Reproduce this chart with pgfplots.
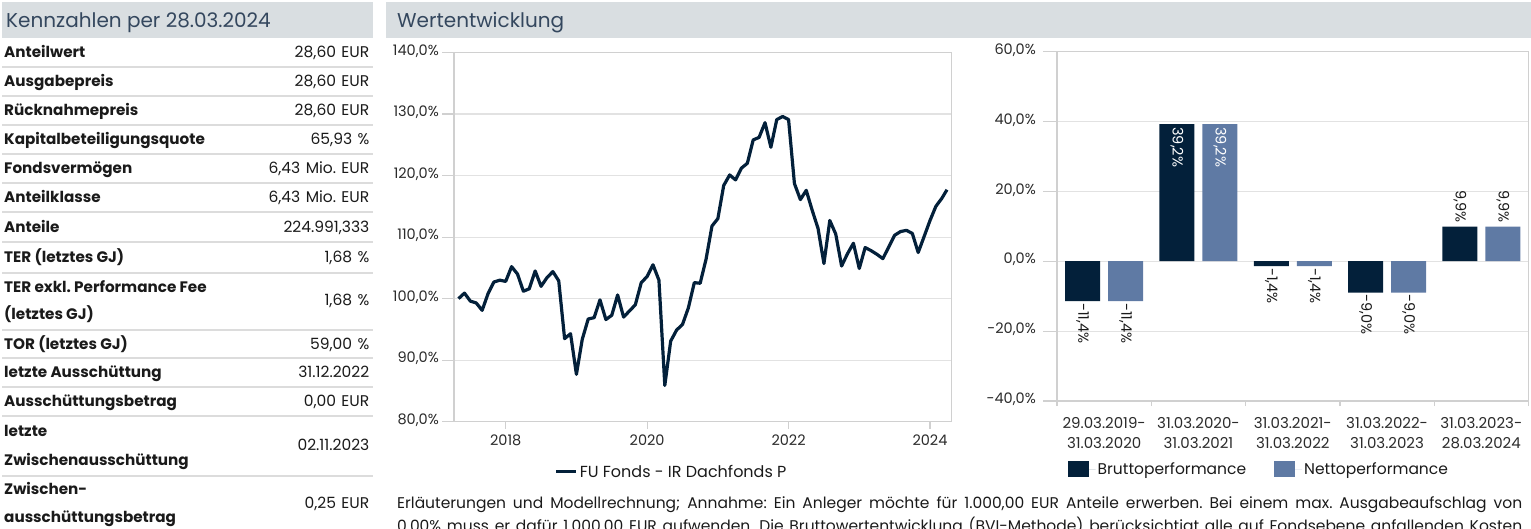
\documentclass[border=0pt]{standalone}
\usepackage{pgfplots}
\pgfplotsset{compat=1.18}
\usepackage{fontspec}
\setmainfont{Poppins}
\newfontfamily\valfont[WordSpace=1.3]{Poppins}
\definecolor{navy}{HTML}{03203A}
\definecolor{steel}{HTML}{5F7AA4}
\definecolor{hdr}{HTML}{D9DEE1}
\definecolor{hdrtxt}{HTML}{34475E}
\definecolor{sepc}{HTML}{DCDCDC}
\definecolor{gridc}{HTML}{E2E2E2}
\definecolor{framec}{HTML}{D0D0D0}
\definecolor{txt}{HTML}{1A1A1A}
\definecolor{ticktxt}{HTML}{2B2B2B}
\tikzset{lblstyle/.style={font=\fontsize{14.5}{16}\selectfont, inner sep=0pt}}
\begin{document}
\frenchspacing
\begin{tikzpicture}
\useasboundingbox (0pt,0pt) rectangle (1531pt,-528pt);
\clip (0pt,0pt) rectangle (1531pt,-528pt);
\begin{scope}[x=1pt,y=-1pt]
\fill[hdr] (2,2) rectangle (373,38);
\fill[hdr] (386,2) rectangle (1531,38);
\node[anchor=base west,inner sep=0,text=hdrtxt,font=\fontsize{20}{22}\selectfont] at (6,27.5) {Kennzahlen per 28.03.2024};
\node[anchor=base west,inner sep=0,text=hdrtxt,font=\fontsize{20}{22}\selectfont] at (397,27.5) {Wertentwicklung};
\foreach \yy in {66.7,96,125,154,183,212,242,273,330,358,387,416,476}
  \draw[sepc,line width=2.2pt] (2,\yy) -- (373,\yy);
\tikzset{lab/.style={anchor=base west,inner sep=0,text=txt,font=\fontsize{15.2}{17}\selectfont\bfseries},
  val/.style={anchor=base east,inner sep=0,text=txt,font=\valfont\fontsize{15.5}{17}\selectfont}}
\node[lab] at (4,57) {Anteilwert};           \node[val] at (369.5,57) {28,60 EUR};
\node[lab] at (4,86) {Ausgabepreis};         \node[val] at (369.5,86) {28,60 EUR};
\node[lab] at (4,115.5) {Rücknahmepreis};    \node[val] at (369.5,115.5) {28,60 EUR};
\node[lab] at (4,144.5) {Kapitalbeteiligungsquote}; \node[val] at (369.5,144.5) {65,93 \%};
\node[lab] at (4,173.5) {Fondsvermögen};     \node[val] at (369.5,173.5) {6,43 Mio. EUR};
\node[lab] at (4,202.5) {Anteilklasse};      \node[val] at (369.5,202.5) {6,43 Mio. EUR};
\node[lab] at (4,232) {Anteile};             \node[val] at (369.5,232) {224.991,333};
\node[lab] at (4,262) {TER (letztes GJ)};    \node[val] at (369.5,262) {1,68 \%};
\node[lab] at (4,292) {TER exkl. Performance Fee}; \node[lab] at (4,319) {(letztes GJ)}; \node[val] at (369.5,305.5) {1,68 \%};
\node[lab] at (4,349) {TOR (letztes GJ)};    \node[val] at (369.5,349) {59,00 \%};
\node[lab] at (4,377.5) {letzte Ausschüttung}; \node[val] at (369.5,377.5) {31.12.2022};
\node[lab] at (4,406.5) {Ausschüttungsbetrag}; \node[val] at (369.5,406.5) {0,00 EUR};
\node[lab] at (4,436) {letzte}; \node[lab] at (4,465) {Zwischenausschüttung}; \node[val] at (369.5,450.5) {02.11.2023};
\node[lab] at (4,494) {Zwischen-}; \node[lab] at (4,522) {ausschüttungsbetrag}; \node[val] at (369.5,508) {0,25 EUR};
\node[anchor=base west,inner sep=0,text=txt,font=\fontsize{15.5}{18}\selectfont] at (397,508) {\makebox[1125pt][s]{Erläuterungen und Modellrechnung; Annahme: Ein Anleger möchte für 1.000,00 EUR Anteile erwerben. Bei einem max. Ausgabeaufschlag von}};
\node[anchor=base west,inner sep=0,text=txt,font=\fontsize{15.5}{18}\selectfont] at (397,531) {\makebox[1125pt][s]{0,00\% muss er dafür 1.000,00 EUR aufwenden. Die Bruttowertentwicklung (BVI-Methode) berücksichtigt alle auf Fondsebene anfallenden Kosten}};
\end{scope}

% ---------------- line chart ----------------
\begin{axis}[
  at={(454pt,-421.7pt)}, anchor=south west,
  scale only axis, width=497.7pt, height=369.2pt,
  xmin=2017.269, xmax=2024.307, ymin=80, ymax=140,
  axis line style={framec,line width=1.5pt},
  tick pos=left, tick align=outside, major tick length=7pt,
  tick style={framec,line width=1.2pt},
  ymajorgrids, grid style={gridc,line width=1.2pt},
  xtick={2018,2020,2022,2024}, xticklabels={2018,2020,2022,2024},
  ytick={80,90,...,140},
  yticklabels={{80,0\%},{90,0\%},{100,0\%},{110,0\%},{120,0\%},{130,0\%},{140,0\%}},
  extra y ticks={80,90,...,140}, extra y tick labels={},
  extra y tick style={major tick length=12pt, grid=none},
  tick label style={font=\fontsize{14.5}{17}\selectfont, text=ticktxt, inner sep=0pt},
  yticklabel style={anchor=mid east},
  yticklabel shift=8pt,
  xticklabel style={anchor=mid, yshift=-14pt, font=\fontsize{14.5}{17}\selectfont},
  legend style={at={(0.437,-0.1354)}, anchor=center, draw=none, fill=none,
    font=\fontsize{16}{19}\selectfont, text=txt},
  legend image code/.code={\draw[#1] (0pt,0pt) -- (20pt,0pt);},
]
\addplot[navy, line width=3.2pt, line join=round] coordinates {
(2017.333,100.0) (2017.417,100.9) (2017.500,99.6) (2017.583,99.3) (2017.667,98.1)
(2017.750,100.8) (2017.833,102.7) (2017.917,103.0) (2018.000,102.8) (2018.083,105.2)
(2018.167,104.0) (2018.250,101.2) (2018.333,101.6) (2018.417,104.5) (2018.500,102.0)
(2018.583,103.4) (2018.667,104.4) (2018.750,102.9) (2018.833,93.5) (2018.917,94.3)
(2019.000,87.7) (2019.083,93.4) (2019.167,96.7) (2019.250,96.9) (2019.333,99.8)
(2019.417,96.6) (2019.500,97.3) (2019.583,100.6) (2019.667,97.0) (2019.750,98.0)
(2019.833,99.0) (2019.917,102.6) (2020.000,103.6) (2020.083,105.5) (2020.167,103.0)
(2020.250,85.9) (2020.333,93.1) (2020.417,94.9) (2020.500,95.8) (2020.583,98.5)
(2020.667,102.6) (2020.750,102.5) (2020.833,106.4) (2020.917,111.8) (2021.000,113.0)
(2021.083,118.4) (2021.167,120.1) (2021.250,119.3) (2021.333,121.2) (2021.417,122.0)
(2021.500,125.8) (2021.583,126.2) (2021.667,128.6) (2021.750,124.6) (2021.833,129.1)
(2021.917,129.6) (2022.000,129.1) (2022.083,118.7) (2022.167,116.1) (2022.250,117.6)
(2022.333,114.4) (2022.417,111.4) (2022.500,105.7) (2022.583,112.7) (2022.667,110.5)
(2022.750,105.3) (2022.833,107.3) (2022.917,109.0) (2023.000,104.9) (2023.083,108.3)
(2023.167,107.8) (2023.250,107.2) (2023.333,106.5) (2023.417,108.4) (2023.500,110.3)
(2023.583,110.9) (2023.667,111.1) (2023.750,110.6) (2023.833,107.5) (2023.917,110.1)
(2024.000,112.7) (2024.083,115.0) (2024.167,116.3) (2024.240,117.7)
};
\addlegendentry{FU Fonds - IR Dachfonds P}
\end{axis}

% ---------------- bar chart ----------------
\begin{axis}[
  at={(1057pt,-401pt)}, anchor=south west,
  scale only axis, width=471.5pt, height=349.5pt,
  xmin=-0.5, xmax=4.5, ymin=-40, ymax=60,
  axis line style={framec,line width=1.5pt},
  tick pos=left, tick align=outside, major tick length=5pt,
  tick style={framec,line width=1.2pt},
  ymajorgrids, grid style={gridc,line width=1.2pt},
  bar width=35pt,
  xtick={-0.5,0.5,1.5,2.5,3.5,4.5}, xticklabels={},
  extra x ticks={0,1,2,3,4},
  extra x tick labels={{29.03.2019-\\31.03.2020},{31.03.2020-\\31.03.2021},{31.03.2021-\\31.03.2022},{31.03.2022-\\31.03.2023},{31.03.2023-\\28.03.2024}},
  extra x tick style={major tick length=0pt, xticklabel style={align=center, anchor=north, yshift=-16.5pt, font=\fontsize{15}{20}\selectfont}},
  ytick={-40,-20,...,60},
  yticklabels={{-40,0\%},{-20,0\%},{0,0\%},{20,0\%},{40,0\%},{60,0\%}},
  extra y ticks={-40,-20,...,60}, extra y tick labels={},
  extra y tick style={major tick length=14pt, grid=none},
  tick label style={font=\fontsize{14.5}{17}\selectfont, text=ticktxt, inner sep=0pt},
  yticklabel style={anchor=mid east},
  yticklabel shift=16pt,
  /pgf/number format/assume math mode=true,
  legend columns=2,
  legend style={at={(0.428,-0.1946)}, anchor=center, draw=none, fill=none,
    font=\fontsize{15.5}{18}\selectfont, text=txt,
    /tikz/every even column/.append style={column sep=26pt}},
  lbl/.style={forget plot, only marks, mark=none, nodes near coords, point meta=y,
    nodes near coords={\pgfmathprintnumber[fixed,fixed zerofill,precision=1,use comma]{\pgfplotspointmeta}\%}},
]
\addplot[ybar, bar shift=-21.5pt, fill=navy, draw=none,
  legend image code/.code={\fill[navy] (0pt,-8pt) rectangle (21pt,8pt); \path (21pt,0pt) -- (28pt,0pt);}]
  coordinates {(0,-11.4) (1,39.2) (2,-1.4) (3,-9.0) (4,9.9)};
\addlegendentry{Bruttoperformance}
\addplot[ybar, bar shift=21.5pt, fill=steel, draw=none,
  legend image code/.code={\fill[steel] (0pt,-8pt) rectangle (21pt,8pt); \path (21pt,0pt) -- (28pt,0pt);}]
  coordinates {(0,-11.4) (1,39.2) (2,-1.4) (3,-9.0) (4,9.9)};
\addlegendentry{Nettoperformance}
% labels: negatives below bars
\addplot[lbl, nodes near coords style={xshift=-21.5pt, rotate=-90, anchor=west, xshift=2pt, lblstyle, text=txt}]
  coordinates {(0,-11.4) (2,-1.4) (3,-9.0)};
\addplot[lbl, nodes near coords style={xshift=21.5pt, rotate=-90, anchor=west, xshift=2pt, lblstyle, text=txt}]
  coordinates {(0,-11.4) (2,-1.4) (3,-9.0)};
% labels inside the tall bars
\addplot[lbl, nodes near coords style={xshift=-21.5pt, rotate=-90, anchor=west, xshift=3pt, lblstyle, text=white}]
  coordinates {(1,39.2)};
\addplot[lbl, nodes near coords style={xshift=21.5pt, rotate=-90, anchor=west, xshift=3pt, lblstyle, text=white}]
  coordinates {(1,39.2)};
% labels above the small positive bars
\addplot[lbl, nodes near coords style={xshift=-21.5pt, rotate=-90, anchor=east, xshift=-4pt, lblstyle, text=txt}]
  coordinates {(4,9.9)};
\addplot[lbl, nodes near coords style={xshift=21.5pt, rotate=-90, anchor=east, xshift=-4pt, lblstyle, text=txt}]
  coordinates {(4,9.9)};
\end{axis}
\end{tikzpicture}
\end{document}
